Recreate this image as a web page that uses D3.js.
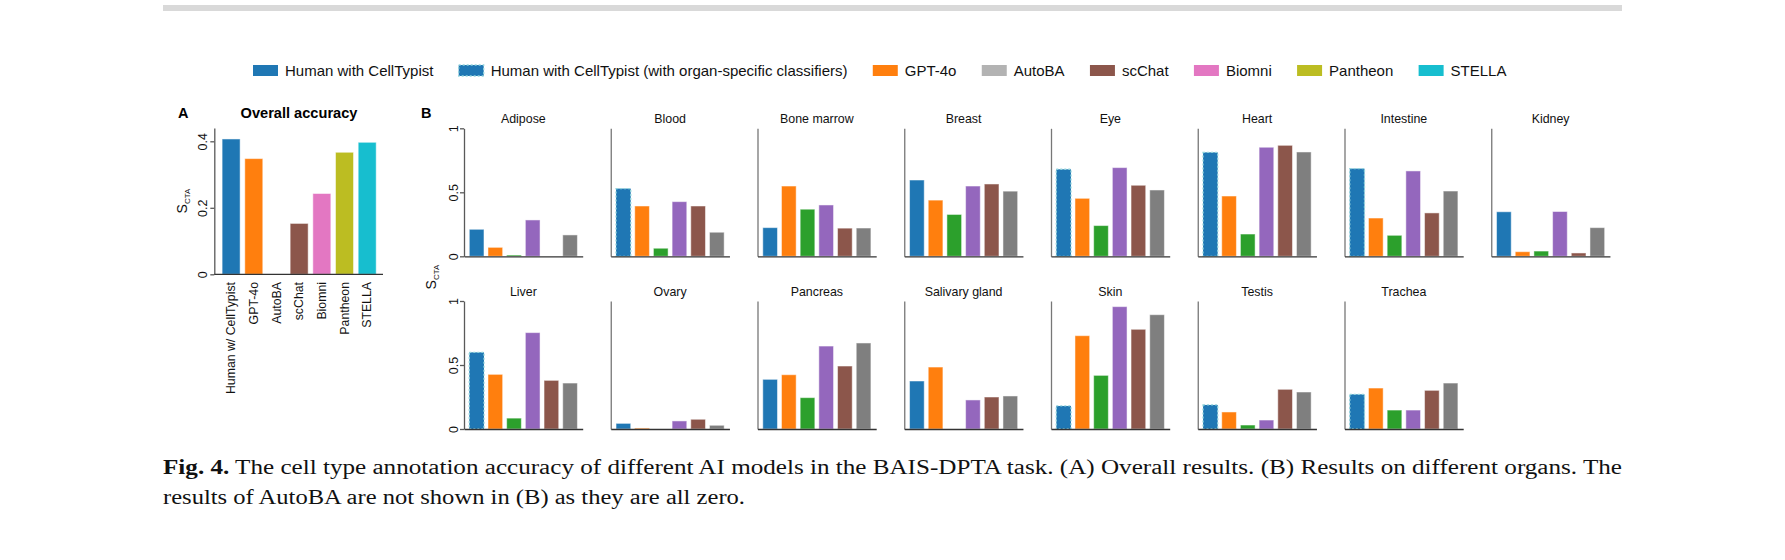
<!DOCTYPE html>
<html>
<head>
<meta charset="utf-8">
<script src="https://cdn.jsdelivr.net/npm/d3@7"></script>
<style>
  body { margin: 0; background: #fff; }
  svg { display: block; }
</style>
</head>
<body>
<svg id="fig" width="1785" height="560"></svg>
<script>
// ---- data ----
const legendNames = ["Human with CellTypist", "Human with CellTypist (with organ-specific classifiers)",
  "GPT-4o", "AutoBA", "scChat", "Biomni", "Pantheon", "STELLA"];
const legendColors = ["#1f77b4", "#1f77b4", "#ff7f0e", "#b3b3b3", "#8c564b", "#e377c2", "#bcbd22", "#17becf"];

const overallModels = ["Human w/ CellTypist", "GPT-4o", "AutoBA", "scChat", "Biomni", "Pantheon", "STELLA"];
const overallValues = [0.407, 0.348, 0, 0.153, 0.243, 0.367, 0.397];
const overallColors = ["#1f77b4", "#ff7f0e", "#b3b3b3", "#8c564b", "#e377c2", "#bcbd22", "#17becf"];
const overallTicks = [0, 0.2, 0.4];

const organs = ["Adipose", "Blood", "Bone marrow", "Breast", "Eye", "Heart", "Intestine", "Kidney",
  "Liver", "Ovary", "Pancreas", "Salivary gland", "Skin", "Testis", "Trachea"];
const organSeries = ["Human", "GPT-4o", "scChat", "Biomni", "Pantheon", "STELLA"];
const organColors = ["#1f77b4", "#ff7f0e", "#2ca02c", "#9467bd", "#8c564b", "#7f7f7f"];
const organValues = [
  [0.211, 0.070, 0.010, 0.284, 0.000, 0.167],  // Adipose
  [0.529, 0.393, 0.063, 0.427, 0.393, 0.188],  // Blood
  [0.224, 0.549, 0.368, 0.401, 0.220, 0.221],  // Bone marrow
  [0.596, 0.439, 0.327, 0.549, 0.565, 0.509],  // Breast
  [0.680, 0.453, 0.240, 0.693, 0.555, 0.518],  // Eye
  [0.812, 0.471, 0.174, 0.852, 0.867, 0.815],  // Heart
  [0.685, 0.299, 0.164, 0.667, 0.339, 0.510],  // Intestine
  [0.348, 0.036, 0.041, 0.350, 0.026, 0.224],  // Kidney
  [0.599, 0.427, 0.085, 0.753, 0.380, 0.359],  // Liver
  [0.044, 0.008, 0.000, 0.063, 0.076, 0.029],  // Ovary
  [0.388, 0.424, 0.245, 0.648, 0.492, 0.672],  // Pancreas
  [0.375, 0.484, 0.000, 0.227, 0.250, 0.258],  // Salivary gland
  [0.180, 0.729, 0.419, 0.956, 0.779, 0.893],  // Skin
  [0.188, 0.133, 0.031, 0.070, 0.310, 0.289],  // Testis
  [0.271, 0.320, 0.148, 0.148, 0.302, 0.359]   // Trachea
];
// organs where the human baseline used organ-specific classifiers (dotted bars)
const organSpecific = ["Blood", "Eye", "Heart", "Intestine", "Liver", "Skin", "Testis", "Trachea"];
const organTicks = [0, 0.5, 1];

const captionBold = "Fig. 4.";
const captionLine1 = " The cell type annotation accuracy of different AI models in the BAIS-DPTA task. (A) Overall results. (B) Results on different organs. The";
const captionLine2 = "results of AutoBA are not shown in (B) as they are all zero.";

// ---- drawing ----
const svg = d3.select("#fig");
const sans = "'Liberation Sans', Arial, Helvetica, sans-serif";
const axisColor = "#595959";
const dotStroke = "#93d4dc";

// top rule
svg.append("rect")
  .attr("x", 163).attr("y", 5)
  .attr("width", 1459).attr("height", 6)
  .attr("fill", "#d9d9d9");

// legend
const legend = svg.append("g").attr("transform", "translate(253,65)");
let lx = 0;
legendNames.forEach((name, i) => {
  const sq = legend.append("rect")
    .attr("x", lx).attr("y", 0)
    .attr("width", 25).attr("height", 11)
    .attr("fill", legendColors[i]);
  if (i === 1) {
    sq.attr("stroke", dotStroke).attr("stroke-width", 1.3).attr("stroke-dasharray", "2,2");
  }
  const t = legend.append("text")
    .attr("x", lx + 32).attr("y", 11)
    .style("font-family", sans)
    .style("font-size", "15px")
    .attr("fill", "#111")
    .text(name);
  lx += 32 + t.node().getComputedTextLength() + 25.3;
});

// helper for rotated tick labels
function rotateTickLabels(g, offset) {
  g.selectAll(".tick text")
    .attr("transform", "rotate(-90)")
    .attr("x", 0)
    .attr("y", -offset)
    .attr("dy", 0)
    .attr("text-anchor", "middle");
}

// ---- Panel A ----
const aLeft = 214.3, aRight = 383, aZero = 274.3;
const aX = d3.scaleBand()
  .domain(overallModels)
  .range([aLeft + 1, aRight])
  .paddingInner(0.206)
  .paddingOuter(0.3);
const aY = d3.scaleLinear()
  .domain([0, 0.44])
  .range([aZero, aZero - 0.44 * 332.5]);

const panelA = svg.append("g");

panelA.append("text")
  .attr("x", 178).attr("y", 118)
  .style("font-family", sans).style("font-size", "14.5px").style("font-weight", "bold")
  .text("A");
panelA.append("text")
  .attr("x", 299).attr("y", 118)
  .attr("text-anchor", "middle")
  .style("font-family", sans).style("font-size", "14.6px").style("font-weight", "bold")
  .text("Overall accuracy");

panelA.selectAll("rect.bar")
  .data(overallValues)
  .join("rect")
  .attr("class", "bar")
  .attr("x", (d, i) => aX(overallModels[i]))
  .attr("width", aX.bandwidth())
  .attr("y", d => aY(d))
  .attr("height", d => aY(0) - aY(d))
  .attr("fill", (d, i) => overallColors[i])
  .attr("stroke", "#fff").attr("stroke-opacity", 0.5).attr("stroke-width", 1)
  .style("display", d => d > 0 ? null : "none");

const aYAxis = panelA.append("g")
  .attr("transform", `translate(${aLeft},0)`)
  .call(d3.axisLeft(aY).tickValues(overallTicks).tickSize(4).tickSizeOuter(0)
    .tickFormat(d => d === 0 ? "0" : d3.format(".1f")(d)));
rotateTickLabels(aYAxis, 7);
aYAxis.selectAll("text").style("font-family", sans).style("font-size", "12.5px").attr("fill", "#111");
aYAxis.selectAll("path, line").attr("stroke", axisColor).attr("stroke-width", 1.3);

const aXAxis = panelA.append("g")
  .attr("transform", `translate(0,${aZero})`)
  .call(d3.axisBottom(aX).tickSize(0).tickSizeOuter(0).tickFormat(""));
aXAxis.select(".domain").attr("d", `M${aLeft},0H${aRight}`)
  .attr("stroke", "#333").attr("stroke-width", 1.3);

overallModels.forEach(m => {
  panelA.append("text")
    .attr("transform", `translate(${aX(m) + aX.bandwidth() / 2 + 4.3},282) rotate(-90)`)
    .attr("text-anchor", "end")
    .style("font-family", sans).style("font-size", "12.3px").attr("fill", "#111")
    .text(m);
});

const aLab = panelA.append("text")
  .attr("transform", "translate(187,201) rotate(-90)")
  .attr("text-anchor", "middle")
  .style("font-family", sans).style("font-size", "14px").attr("fill", "#111");
aLab.append("tspan").text("S");
aLab.append("tspan").attr("dy", 3).style("font-size", "8px").text("CTA");

// ---- Panel B ----
const bLeft0 = 464, bStep = 146.75, bWidth = 118.7;
const rowZero = [256.3, 429];
const unit = 128;

svg.append("text")
  .attr("x", 421).attr("y", 118)
  .style("font-family", sans).style("font-size", "14.5px").style("font-weight", "bold")
  .text("B");

const bLab = svg.append("text")
  .attr("transform", "translate(436,277) rotate(-90)")
  .attr("text-anchor", "middle")
  .style("font-family", sans).style("font-size", "14px").attr("fill", "#111");
bLab.append("tspan").text("S");
bLab.append("tspan").attr("dy", 3).style("font-size", "8px").text("CTA");

const bX = d3.scaleBand()
  .domain(organSeries)
  .range([0, bWidth])
  .paddingInner(0.214)
  .paddingOuter(0.283);
const bY = d3.scaleLinear().domain([0, 1]).range([unit, 0]);

organs.forEach((organ, oi) => {
  const col = oi % 8, row = Math.floor(oi / 8);
  const g = svg.append("g")
    .attr("transform", `translate(${bLeft0 + col * bStep},${rowZero[row] - unit})`);

  g.append("text")
    .attr("x", bWidth / 2).attr("y", -5.5)
    .attr("text-anchor", "middle")
    .style("font-family", sans).style("font-size", "12.4px").attr("fill", "#111")
    .text(organ);

  const dotted = organSpecific.includes(organ);
  g.selectAll("rect.bar")
    .data(organValues[oi])
    .join("rect")
    .attr("class", "bar")
    .attr("x", (d, i) => bX(organSeries[i]))
    .attr("width", bX.bandwidth())
    .attr("y", d => bY(d))
    .attr("height", d => bY(0) - bY(d))
    .attr("fill", (d, i) => organColors[i])
    .attr("stroke", (d, i) => (i === 0 && dotted) ? dotStroke : "#fff")
    .attr("stroke-opacity", (d, i) => (i === 0 && dotted) ? 1 : 0.5)
    .attr("stroke-width", (d, i) => (i === 0 && dotted) ? 1.3 : 1)
    .attr("stroke-dasharray", (d, i) => (i === 0 && dotted) ? "2,2" : null)
    .style("display", d => d > 0 ? null : "none");

  const yAxis = g.append("g")
    .call(d3.axisLeft(bY).tickValues(col === 0 ? organTicks : []).tickSize(4).tickSizeOuter(0)
      .tickFormat(d3.format("~g")));
  rotateTickLabels(yAxis, 6);
  yAxis.selectAll("text").style("font-family", sans).style("font-size", "12.5px").attr("fill", "#111");
  yAxis.selectAll("path, line").attr("stroke", col === 0 ? axisColor : "#777").attr("stroke-width", 1.3);

  const xAxis = g.append("g")
    .attr("transform", `translate(0,${unit})`)
    .call(d3.axisBottom(bX).tickSize(0).tickSizeOuter(0).tickFormat(""));
  xAxis.select(".domain").attr("stroke", "#333").attr("stroke-width", 1.3);
});

// ---- caption ----
const serif = "'Liberation Serif', 'Times New Roman', serif";
const cap1 = svg.append("text")
  .attr("x", 163).attr("y", 474)
  .attr("textLength", 1459).attr("lengthAdjust", "spacingAndGlyphs")
  .style("font-family", serif).style("font-size", "20.5px").attr("fill", "#111");
cap1.append("tspan").style("font-weight", "bold").text(captionBold);
cap1.append("tspan").text(captionLine1);

svg.append("text")
  .attr("x", 163).attr("y", 504)
  .attr("textLength", 582).attr("lengthAdjust", "spacingAndGlyphs")
  .style("font-family", serif).style("font-size", "20.5px").attr("fill", "#111")
  .text(captionLine2);
</script>
</body>
</html>
